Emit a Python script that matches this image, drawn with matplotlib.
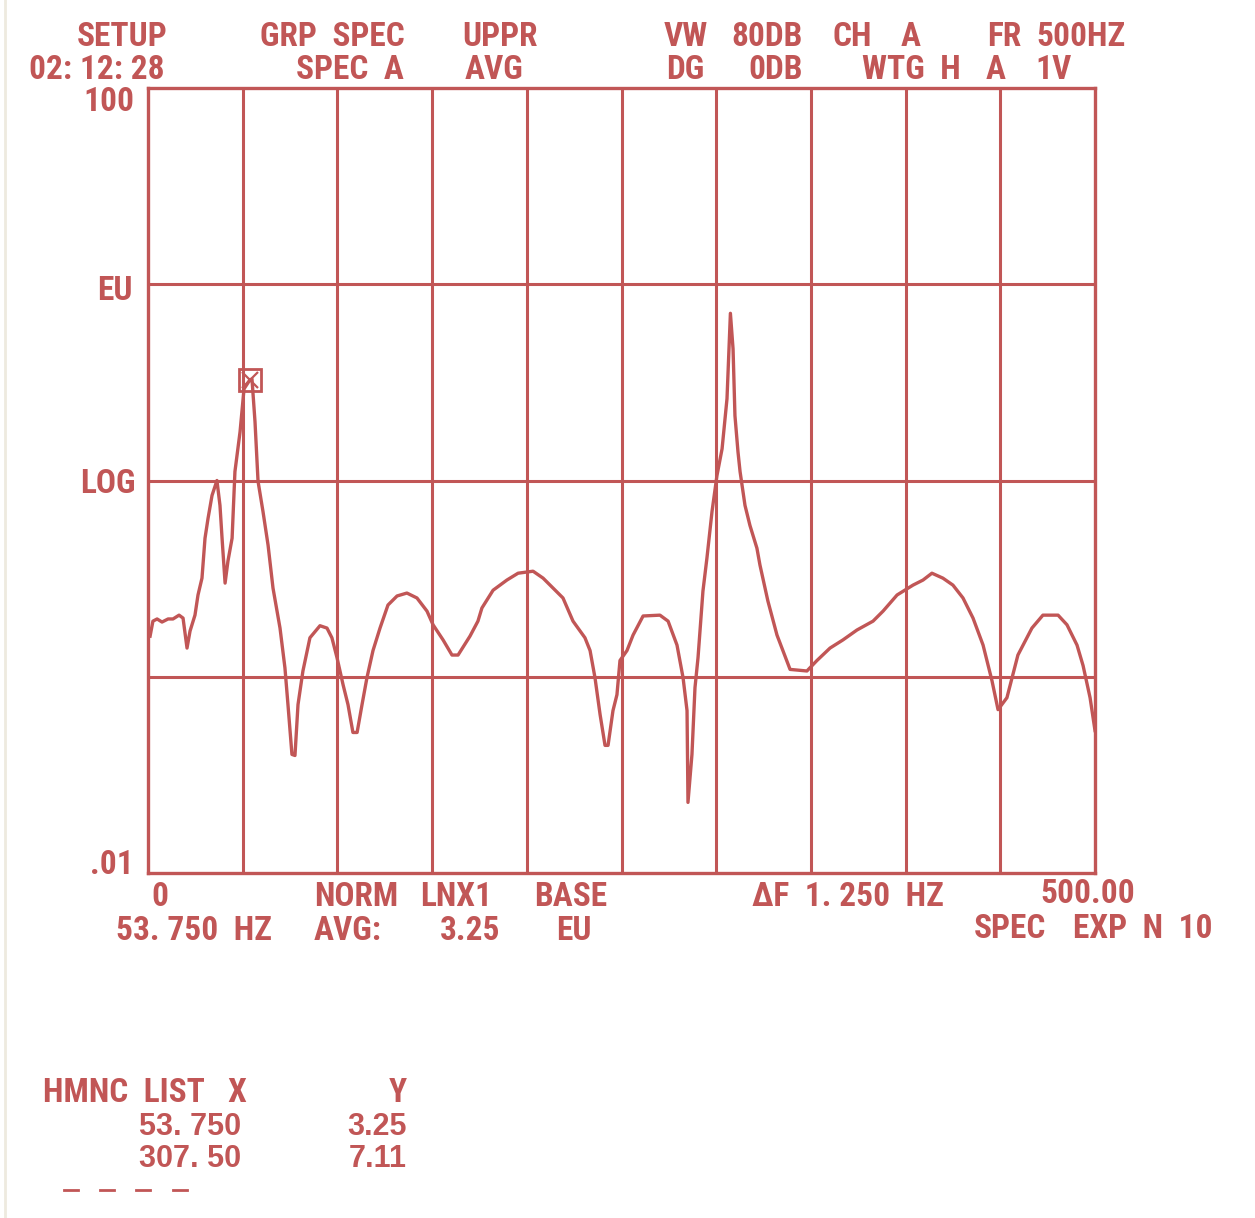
import numpy as np
import matplotlib
matplotlib.use("Agg")
import matplotlib.pyplot as plt
from matplotlib.lines import Line2D
from matplotlib import font_manager

# spectrum trace (Hz, EU)
freq = [1.1, 2.6, 4.8, 7.4, 10.6, 13.2, 16.4, 18.5, 20.6, 22.2, 24.8, 26.4, 28.5, 30.1, 31.7,
        33.8, 36.4, 38.0, 39.1, 40.7, 42.2, 44.4, 45.9, 48.6, 50.7, 53.75, 54.9, 56.5, 58.1,
        60.7, 63.4, 66.0, 69.7, 72.3, 73.9, 76.0, 77.6, 79.2, 81.8, 85.5, 90.8, 94.5, 97.1,
        99.8, 103.0, 105.6, 108.2, 110.4, 113.0, 115.6, 118.8, 122.5, 126.7, 131.5, 136.7,
        142.0, 147.3, 150.5, 155.8, 160.5, 163.7, 170.0, 174.2, 176.3, 182.2, 189.5, 195.4,
        203.3, 208.6, 219.1, 224.4, 230.7, 233.4, 236.0, 238.7, 241.3, 242.9, 245.5, 247.6,
        249.2, 252.9, 256.1, 261.4, 270.3, 274.6, 279.3, 282.5, 284.6, 285.1, 287.2, 288.8,
        290.4, 293.0, 295.1, 297.8, 300.4, 303.1, 305.7, 307.5, 308.9, 309.9, 311.5, 312.6,
        315.2, 317.8, 321.5, 323.1, 327.3, 332.1, 339.0, 347.9, 353.2, 360.1, 366.9, 374.3,
        382.8, 388.1, 395.5, 403.9, 409.2, 413.9, 419.7, 425.0, 430.3, 435.6, 440.9, 445.6,
        448.8, 453.5, 459.3, 466.7, 472.5, 480.5, 485.2, 490.5, 493.7, 497.4, 500.0]
amp = [0.161, 0.192, 0.197, 0.190, 0.197, 0.197, 0.206, 0.199, 0.140, 0.171, 0.206, 0.261,
       0.318, 0.508, 0.641, 0.839, 1.00, 0.747, 0.508, 0.300, 0.388, 0.508, 1.11, 1.77, 2.93,
       3.25, 3.29, 1.99, 0.99, 0.696, 0.468, 0.283, 0.177, 0.111, 0.0721, 0.0402, 0.0397,
       0.0721, 0.107, 0.158, 0.182, 0.177, 0.158, 0.125, 0.091, 0.0721, 0.052, 0.052, 0.0721,
       0.0989, 0.136, 0.177, 0.232, 0.258, 0.267, 0.252, 0.216, 0.184, 0.154, 0.129, 0.129,
       0.161, 0.192, 0.224, 0.276, 0.311, 0.337, 0.345, 0.318, 0.252, 0.192, 0.158, 0.136,
       0.0989, 0.0641, 0.0447, 0.0447, 0.0672, 0.081, 0.121, 0.136, 0.163, 0.204, 0.206,
       0.192, 0.145, 0.0989, 0.0672, 0.0229, 0.0402, 0.088, 0.125, 0.273, 0.402, 0.696, 1.06,
       1.45, 2.61, 7.11, 4.68, 2.14, 1.40, 1.11, 0.747, 0.591, 0.452, 0.371, 0.243, 0.163,
       0.109, 0.107, 0.121, 0.140, 0.154, 0.173, 0.192, 0.216, 0.261, 0.293, 0.311, 0.337,
       0.318, 0.293, 0.252, 0.199, 0.145, 0.0955, 0.068, 0.0782, 0.129, 0.177, 0.206, 0.206,
       0.184, 0.145, 0.114, 0.0782, 0.0532]

marker_x = 53.75
marker_y = 3.25
hmnc_x = ["53. 750", "307. 50"]
hmnc_y = ["3.25", "7.11"]

RED = "#C15656"
W, H = 1255, 1218

# pick a narrow face if one is around, the screen font is condensed
names = set(f.name for f in font_manager.fontManager.ttflist)
narrow = [n for n in ['Roboto Condensed', 'Liberation Sans Narrow', 'Open Sans Condensed',
                      'Roboto'] if n in names]
LAB = narrow[:1] + ['Liberation Sans', 'DejaVu Sans']
NUM = ['Liberation Sans', 'DejaVu Sans']
cond = narrow[:1] in (['Roboto Condensed'], ['Liberation Sans Narrow'], ['Open Sans Condensed'])
SZ = 24 if cond else 20

plt.rcParams['font.family'] = LAB
plt.rcParams['font.weight'] = 'bold'

fig = plt.figure(figsize=(W / 100, H / 100), dpi=100)
ax = fig.add_axes([148 / W, 1 - 873 / H, (1095 - 148) / W, (873 - 88) / H])
ax.set_yscale('log')
ax.set_xlim(0, 500)
ax.set_ylim(0.01, 100)

for xv in range(50, 500, 50):
    ax.axvline(xv, color=RED, lw=2.2)
for yv in [0.1, 1, 10]:
    ax.axhline(yv, color=RED, lw=2.2)
for s in ax.spines.values():
    s.set_color(RED)
    s.set_linewidth(2.4)
ax.set_xticks([])
ax.set_yticks([])
ax.yaxis.set_minor_locator(matplotlib.ticker.NullLocator())

ax.plot(freq, amp, color=RED, lw=2.4, solid_joinstyle='round')
ax.plot([marker_x], [marker_y], marker='s', ms=16, mfc='none', mec=RED, mew=2)
ax.plot([marker_x], [marker_y], marker='x', ms=12, mec=RED, mew=1.6)


def txt(x, y, s, ha='center', size=None, fam=None):
    fig.text(x / W, 1 - y / H, s, ha=ha, va='center', color=RED, fontsize=size or SZ,
             fontweight='bold', family=fam or LAB)


# header
txt(122, 37, "SETUP")
txt(332, 37, "GRP  SPEC")
txt(500, 37, "UPPR")
txt(686, 37, "VW")
txt(767, 37, "80DB")
txt(852, 37, "CH")
txt(911, 37, "A")
txt(1004, 37, "FR")
txt(1081, 37, "500HZ")
txt(97, 70, "02: 12: 28")
txt(350, 70, "SPEC  A")
txt(494, 70, "AVG")
txt(685, 70, "DG")
txt(776, 70, "0DB")
txt(911, 70, "WTG  H")
txt(996, 70, "A")
txt(1053, 70, "1V")

# y labels
txt(134, 102, "100", ha='right')
txt(133, 291, "EU", ha='right')
txt(136, 484, "LOG", ha='right')
txt(134, 865, ".01", ha='right')

# footer
txt(160, 897, "0")
txt(356, 897, "NORM")
txt(456, 897, "LNX1")
txt(571, 897, "BASE")
txt(848, 897, "\u0394F  1. 250  HZ")
txt(1088, 894, "500.00")
txt(194, 931, "53. 750  HZ")
txt(348, 931, "AVG:")
txt(470, 931, "3.25")
txt(574, 931, "EU")
txt(1010, 929, "SPEC")
txt(1143, 929, "EXP  N  10")

# harmonic list
txt(43, 1093, "HMNC  LIST   X", ha='left')
txt(398, 1093, "Y")
for i, (hx, hy) in enumerate(zip(hmnc_x, hmnc_y)):
    yy = 1127 + 32 * i
    txt(241, yy, hx, ha='right', size=22, fam=NUM)
    txt(407, yy, hy, ha='right', size=22, fam=NUM)
for xd in [71, 107, 143, 180]:
    fig.add_artist(Line2D([(xd - 7) / W, (xd + 7) / W], [1 - 1190 / H] * 2, color=RED, lw=2))

# faint border at the left edge of the screenshot
fig.add_artist(Line2D([5 / W, 5 / W], [0, 1], color="#EEEADF", lw=2))

fig.savefig("out.png", dpi=100)
